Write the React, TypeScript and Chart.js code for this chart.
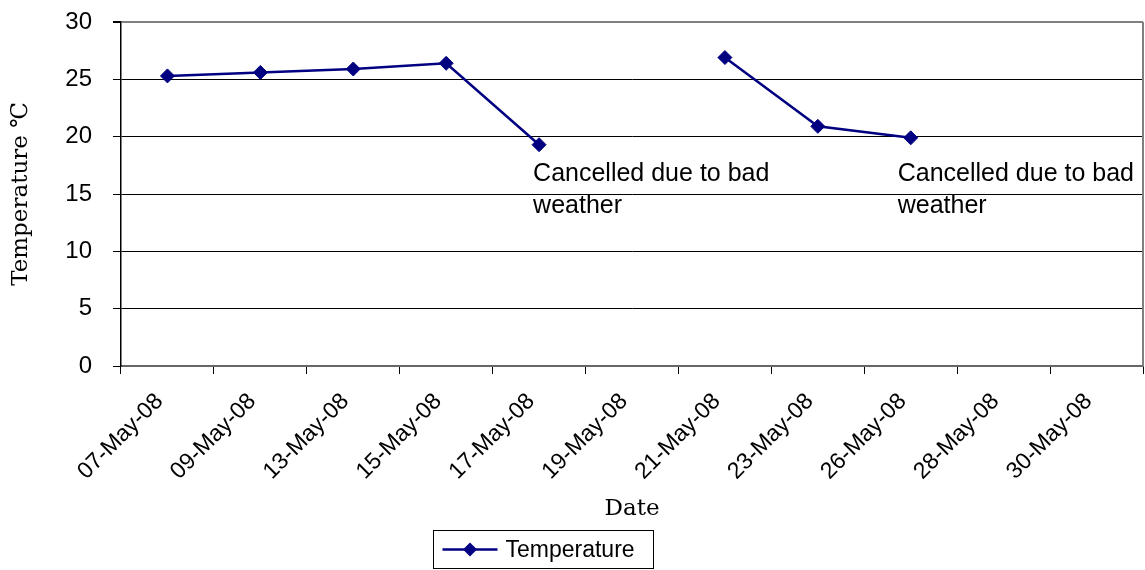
import React, { useEffect, useRef } from "react";
import { Chart, registerables } from "chart.js";

Chart.register(...registerables);

const categories = [
  "07-May-08", "09-May-08", "13-May-08", "15-May-08", "17-May-08", "19-May-08",
  "21-May-08", "23-May-08", "26-May-08", "28-May-08", "30-May-08",
];
const temperature: (number | null)[] = [25.3, 25.6, 25.9, 26.4, 19.3, null, 26.9, 20.9, 19.9, null, null];
const yTicks = [0, 5, 10, 15, 20, 25, 30];
const seriesName = "Temperature";
const yTitle = "Temperature ℃";
const xTitle = "Date";
const noteCategories = ["17-May-08", "26-May-08"];
const noteLines = ["Cancelled due to bad", "weather"];

const NAVY = "#000080";
const SANS = "'Liberation Sans', Arial, sans-serif";
const SERIF = "'DejaVu Serif', serif";
const NOTE_DX = [-6, -13];
const NOTE_VALUE = 16.7;

const overlayPlugin = {
  id: "overlay",
  afterDraw(chart: any) {
    const { ctx, chartArea, scales } = chart;
    ctx.save();
    // right plot border
    ctx.strokeStyle = "#808080";
    ctx.lineWidth = 2;
    ctx.beginPath();
    ctx.moveTo(chartArea.right, chartArea.top);
    ctx.lineTo(chartArea.right, chartArea.bottom);
    ctx.stroke();

    // annotations
    ctx.fillStyle = "#000";
    ctx.font = `25px ${SANS}`;
    ctx.textAlign = "left";
    ctx.textBaseline = "middle";
    noteCategories.forEach((cat, i) => {
      const idx = categories.indexOf(cat);
      const x = scales.x.getPixelForValue(idx) + NOTE_DX[i];
      const y = scales.y.getPixelForValue(NOTE_VALUE);
      noteLines.forEach((line, j) => ctx.fillText(line, x, y + j * 32));
    });

    // legend
    const bx = 433.5, by = 530.5, bw = 220, bh = 38;
    ctx.strokeStyle = "#000";
    ctx.lineWidth = 1;
    ctx.strokeRect(bx, by, bw, bh);
    const ly = by + bh / 2;
    ctx.strokeStyle = NAVY;
    ctx.lineWidth = 2.5;
    ctx.beginPath();
    ctx.moveTo(bx + 9, ly);
    ctx.lineTo(bx + 64, ly);
    ctx.stroke();
    ctx.fillStyle = NAVY;
    const cx = bx + 36.5, r = 7;
    ctx.beginPath();
    ctx.moveTo(cx, ly - r);
    ctx.lineTo(cx + r, ly);
    ctx.lineTo(cx, ly + r);
    ctx.lineTo(cx - r, ly);
    ctx.closePath();
    ctx.fill();
    ctx.fillStyle = "#000";
    ctx.font = `23px ${SANS}`;
    ctx.textBaseline = "middle";
    ctx.fillText(seriesName, bx + 72, ly + 1);
    ctx.restore();
  },
};

export default function App() {
  const ref = useRef<HTMLCanvasElement | null>(null);
  useEffect(() => {
    if (!ref.current) return;
    const chart = new Chart(ref.current, {
      type: "line",
      data: {
        labels: categories,
        datasets: [
          {
            label: seriesName,
            data: temperature,
            borderColor: NAVY,
            backgroundColor: NAVY,
            borderWidth: 2.5,
            pointStyle: "rectRot",
            pointRadius: 7,
            pointBorderWidth: 1,
            pointBorderColor: NAVY,
            pointBackgroundColor: NAVY,
            spanGaps: false,
            tension: 0,
          },
        ],
      },
      options: {
        responsive: false,
        animation: false,
        layout: { autoPadding: false, padding: { top: 22, right: 2, bottom: 0, left: 0 } },
        plugins: { legend: { display: false }, tooltip: { enabled: false } },
        scales: {
          x: {
            type: "category",
            offset: true,
            grid: {
              offset: true,
              drawOnChartArea: false,
              drawTicks: true,
              tickLength: 8,
              tickColor: "#000",
            },
            border: { color: "#666", width: 2 },
            ticks: {
              autoSkip: false,
              minRotation: 45,
              maxRotation: 45,
              padding: 14,
              labelOffset: -8,
              color: "#000",
              font: { family: SANS, size: 23 },
            },
            title: {
              display: true,
              text: xTitle,
              color: "#000",
              font: { family: SERIF, size: 23 },
              padding: { top: 0, bottom: 47 },
            },
            afterFit(scale: any) {
              scale.height = 204;
              scale.paddingLeft = 0;
              scale.paddingRight = 0;
            },
          },
          y: {
            min: 0,
            max: 30,
            afterBuildTicks(scale: any) {
              scale.ticks = yTicks.map((v) => ({ value: v }));
            },
            grid: {
              color: (c: any) => (c.tick && c.tick.value === 30 ? "#808080" : "#000"),
              lineWidth: (c: any) => (c.tick && c.tick.value === 30 ? 2 : 1),
              tickColor: "#000",
              tickLength: 8,
            },
            border: { color: "#000", width: 1.5 },
            ticks: {
              padding: 21,
              color: "#000",
              font: { family: SANS, size: 24 },
            },
            title: {
              display: true,
              text: yTitle,
              color: "#000",
              font: { family: SERIF, size: 23 },
              padding: { top: 7, bottom: 0 },
            },
            afterFit(scale: any) {
              scale.width = 121;
              scale.paddingTop = 0;
              scale.paddingBottom = 0;
            },
          },
        },
      },
      plugins: [overlayPlugin],
    } as any);
    return () => chart.destroy();
  }, []);
  return (
    <div style={{ position: "fixed", left: 0, top: 0, width: 1145, height: 570, background: "#fff" }}>
      <canvas ref={ref} width={1145} height={570} style={{ width: 1145, height: 570, display: "block" }} />
    </div>
  );
}
